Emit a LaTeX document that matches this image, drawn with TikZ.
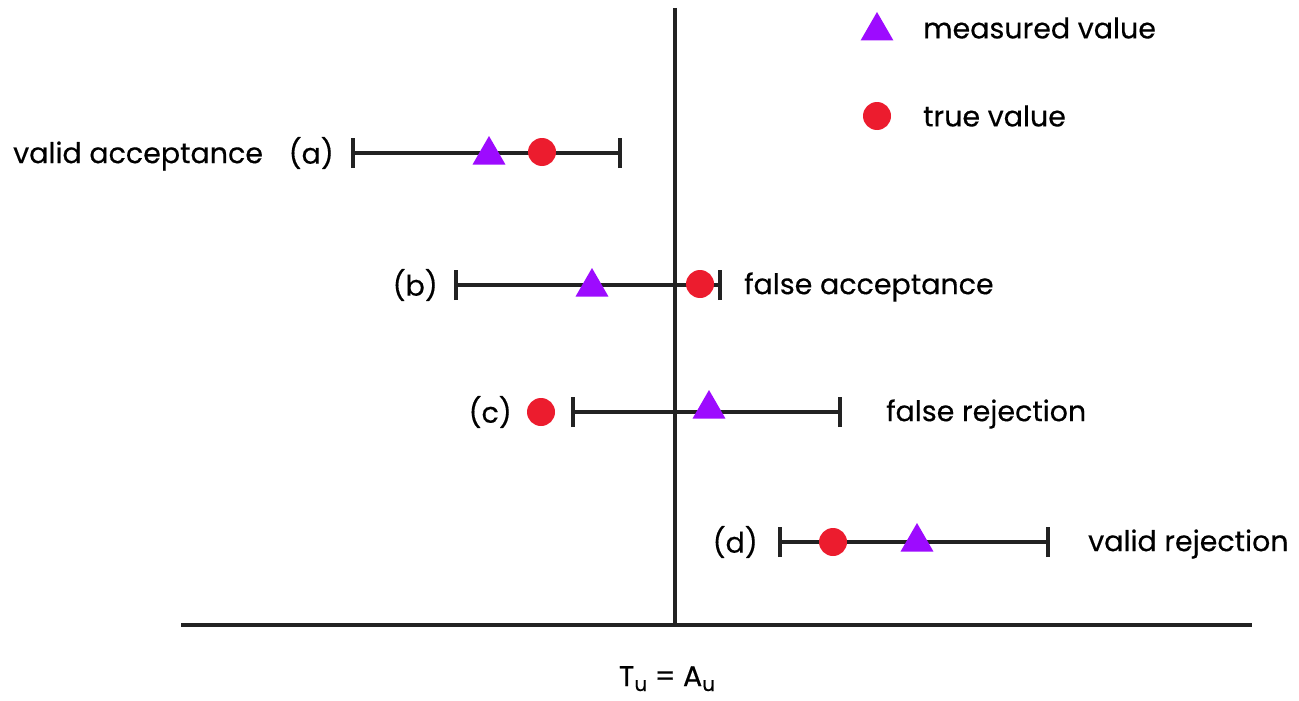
\documentclass[tikz,border=0pt]{standalone}
\usepackage{fontspec}
\setmainfont{Poppins}
\newfontfamily\lblfont{Poppins}[FakeBold=0.4]
\usetikzlibrary{shapes.geometric}
\definecolor{meas}{HTML}{9D0BFF}
\definecolor{truev}{HTML}{EC1C2E}
\definecolor{ink}{HTML}{222222}
\newcommand{\lowsub}[1]{\raisebox{-5pt}{\fontsize{20}{24}\selectfont #1}}
\tikzset{
  measmark/.style={regular polygon, regular polygon sides=3, fill=meas, draw=none, minimum size=38pt, inner sep=0pt},
  truemark/.style={circle, fill=truev, draw=none, minimum size=28pt, inner sep=0pt},
  errbar/.style={draw=ink, line width=4.5pt},
  endcap/.style={draw=ink, line width=4.5pt},
  axisline/.style={draw=ink, line width=4.5pt},
  lbl/.style={font=\lblfont\fontsize{28.5}{34}\selectfont, text=black, inner sep=0pt},
}
\begin{document}
\begin{tikzpicture}[x=1pt,y=-1pt]
\useasboundingbox (0,0) rectangle (1299,701);
% axes
\coordinate (vtop) at (675,8);
\coordinate (vbot) at (675,627);
\coordinate (hl) at (181,625);
\coordinate (hr) at (1252,625);
\draw[axisline] (vtop) -- (vbot);
\draw[axisline] (hl) -- (hr);
\node[lbl, anchor=base] (tu) at (667,686) {T\lowsub{u} = A\lowsub{u}};
% legend
\node[measmark] (legtri) at (877,31) {};
\node[lbl, anchor=west] (legm) at (923,28) {measured value};
\node[truemark] (legdot) at (877,116) {};
\node[lbl, anchor=west] (legt) at (923,116) {true value};
% row a
\coordinate (aL) at (353,153); \coordinate (aR) at (620,153);
\draw[errbar] (aL) -- (aR);
\draw[endcap] ([yshift=-15pt]aL) -- ([yshift=15pt]aL);
\draw[endcap] ([yshift=-15pt]aR) -- ([yshift=15pt]aR);
\node[measmark] (atri) at (489,155) {};
\node[truemark] (adot) at (542,152) {};
\node[lbl, anchor=east] (alab) at (334,153) {(a)};
\node[lbl, anchor=west] (atxt) at (13,156) {valid acceptance};
% row b
\coordinate (bL) at (456,285); \coordinate (bR) at (720,285);
\draw[errbar] (bL) -- (bR);
\draw[endcap] ([yshift=-15pt]bL) -- ([yshift=15pt]bL);
\draw[endcap] ([yshift=-15pt]bR) -- ([yshift=15pt]bR);
\node[measmark] (btri) at (592,287) {};
\node[truemark] (bdot) at (700,284) {};
\node[lbl, anchor=east] (blab) at (438,285) {(b)};
\node[lbl, anchor=west] (btxt) at (744,287) {false acceptance};
% row c
\coordinate (cL) at (573,412); \coordinate (cR) at (840,412);
\draw[errbar] (cL) -- (cR);
\draw[endcap] ([yshift=-15pt]cL) -- ([yshift=15pt]cL);
\draw[endcap] ([yshift=-15pt]cR) -- ([yshift=15pt]cR);
\node[measmark] (ctri) at (709,409) {};
\node[truemark] (cdot) at (541,412) {};
\node[lbl, anchor=east] (clab) at (512,412) {(c)};
\node[lbl, anchor=west] (ctxt) at (886,414) {false rejection};
% row d
\coordinate (dL) at (780,542); \coordinate (dR) at (1048,542);
\draw[errbar] (dL) -- (dR);
\draw[endcap] ([yshift=-15pt]dL) -- ([yshift=15pt]dL);
\draw[endcap] ([yshift=-15pt]dR) -- ([yshift=15pt]dR);
\node[measmark] (dtri) at (917,542) {};
\node[truemark] (ddot) at (833,542) {};
\node[lbl, anchor=east] (dlab) at (758,542) {(d)};
\node[lbl, anchor=west] (dtxt) at (1088,544) {valid rejection};
\end{tikzpicture}
\end{document}
